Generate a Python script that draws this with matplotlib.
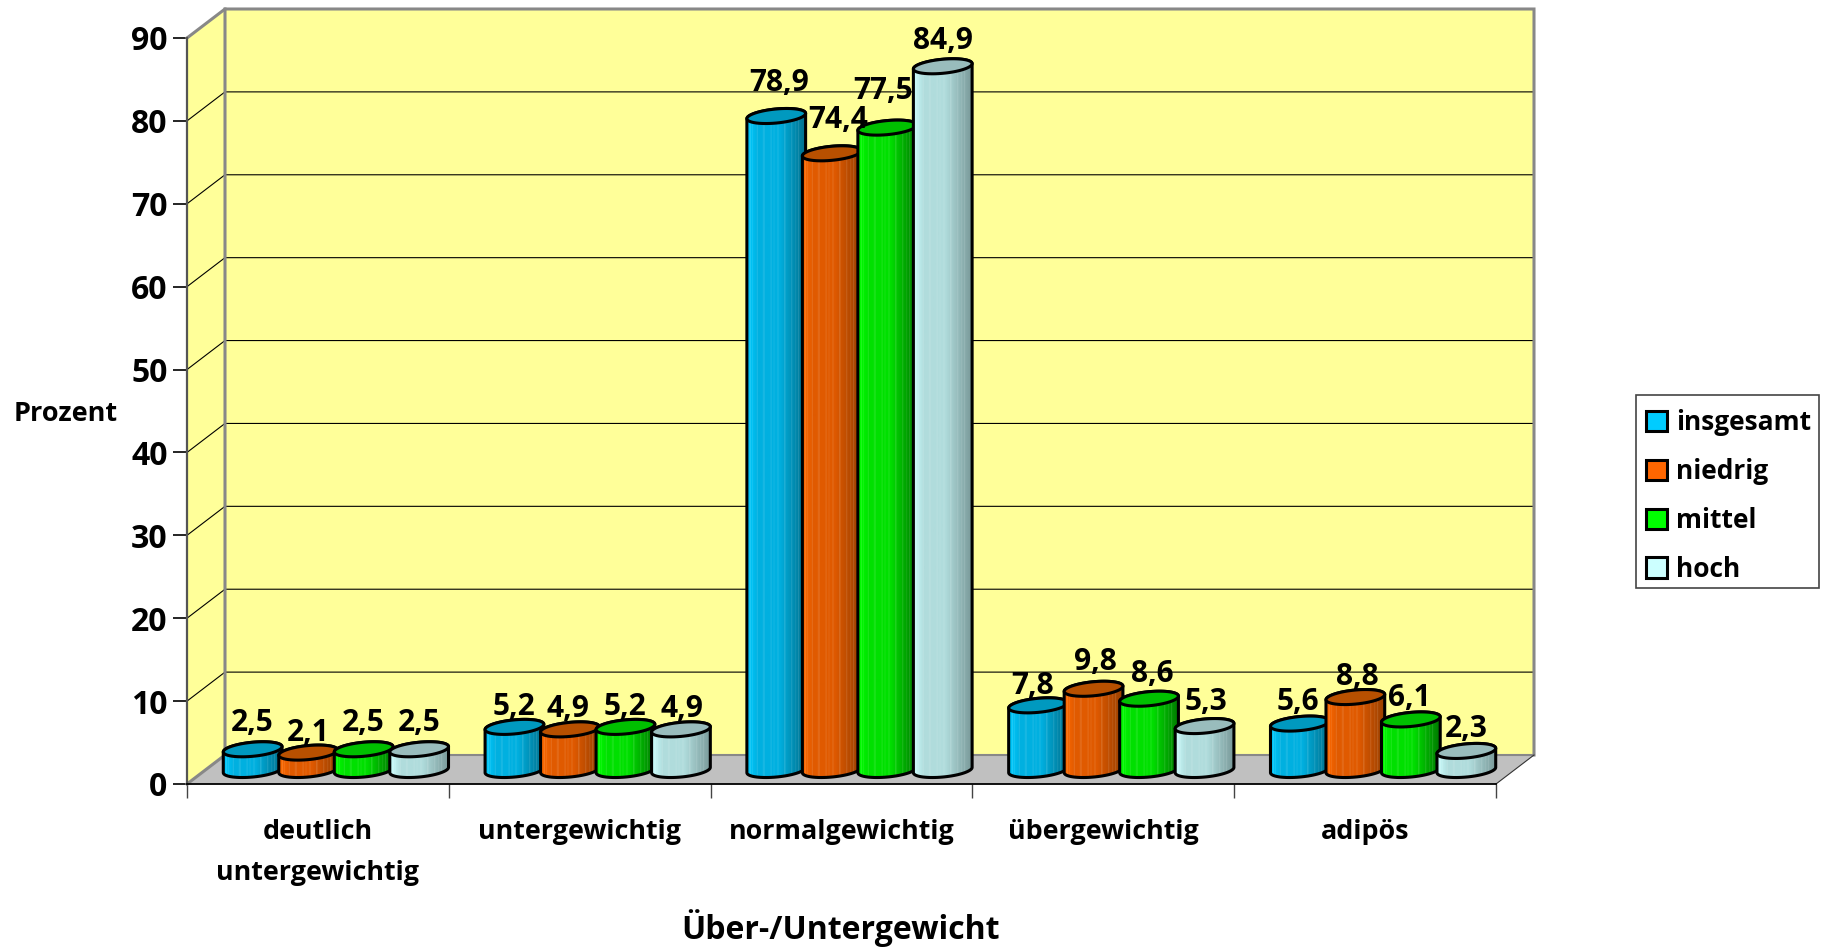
import numpy as np
import matplotlib
matplotlib.use("Agg")
import matplotlib.pyplot as plt
from matplotlib.patches import Polygon, Patch, Rectangle
from matplotlib.ticker import NullFormatter

plt.rcParams['font.family'] = ['Open Sans', 'DejaVu Sans']
plt.rcParams['font.weight'] = 'bold'

categories = ["deutlich\nuntergewichtig", "untergewichtig", "normalgewichtig", "übergewichtig", "adipös"]
series_names = ["insgesamt", "niedrig", "mittel", "hoch"]

insgesamt = [2.5, 5.2, 78.9, 7.8, 5.6]
niedrig = [2.1, 4.9, 74.4, 9.8, 8.8]
mittel = [2.5, 5.2, 77.5, 8.6, 6.1]
hoch = [2.5, 4.9, 84.9, 5.3, 2.3]
values = [insgesamt, niedrig, mittel, hoch]

# left, mid, right of the cylinder shading, then cap colour
shades = [
    ("#00ccff", "#00b0e0", "#00708c", "#0099bf"),
    ("#ff6a00", "#e05a00", "#994000", "#b85000"),
    ("#00ff00", "#00e000", "#007a00", "#00c000"),
    ("#ccffff", "#b0dcdc", "#7a9a9a", "#99bcbc"),
]
legend_colors = ["#00ccff", "#ff6600", "#00ff00", "#ccffff"]

# hand placed data labels in the original (pixels, by category then series)
label_dx = [[0, 0, 0, 0], [-1, -2, -1, 1], [3, 6, -4, 0], [-5, 2, 3, 1], [-2, 2, -1, 0]]
label_dy = [[18, 12, 18, 18], [12, 12, 12, 12], [25, 25, 29, 17], [11, 19, 17, 16], [14, 12, 13, 14]]

fig = plt.figure(figsize=(18.27, 9.48), dpi=100)
ax = fig.add_axes([187 / 1827, (948 - 784) / 948, 1309 / 1827, 746 / 948])
ax.set_facecolor("none")

x_max = 5
y_max = 90
sx = 1309 / x_max  # px per category
sy = 746 / y_max   # px per percent
depth_x = 38 / sx
depth_y = 29 / sy
base_x = 18 / sx
base_y = 14 / sy
bar_step = 55.5 / sx
a_px, b_px = 29.5, 7.0
tilt = np.radians(5.5)


def ellipse_pts(cx, cy, t):
    ex = a_px * np.cos(t) * np.cos(tilt) - b_px * np.sin(t) * np.sin(tilt)
    ey = a_px * np.cos(t) * np.sin(tilt) + b_px * np.sin(t) * np.cos(tilt)
    return cx + ex / sx, cy + ey / sy


def shade_image(left, mid, right):
    # gradient across the cylinder with thin light stripes like the original
    rgb = np.array([matplotlib.colors.to_rgb(c) for c in (left, mid, mid, right)])
    pos = np.linspace(0, 1, 60)
    img = np.stack([np.interp(pos, [0, 0.18, 0.55, 1], rgb[:, k]) for k in range(3)], axis=-1)
    img[3::7] = img[3::7] * 0.88 + 0.12
    img[5::11] = img[5::11] * 0.92 + 0.08
    return img[np.newaxis, :, :]


# walls and floor
ax.add_patch(Polygon([(0, 0), (depth_x, depth_y), (depth_x, y_max + depth_y), (0, y_max)],
                     facecolor="#ffff99", edgecolor="none", clip_on=False, zorder=1))
ax.add_patch(Polygon([(depth_x, depth_y), (x_max + depth_x, depth_y),
                      (x_max + depth_x, y_max + depth_y), (depth_x, y_max + depth_y)],
                     facecolor="#ffff99", edgecolor="none", clip_on=False, zorder=1))
ax.add_patch(Polygon([(0, 0), (x_max, 0), (x_max + depth_x, depth_y), (depth_x, depth_y)],
                     facecolor="#c0c0c0", edgecolor="none", clip_on=False, zorder=1))

# grid on both walls
for v in range(10, 90, 10):
    ax.plot([0, depth_x, x_max + depth_x], [v, v + depth_y, v + depth_y], color="black",
            lw=0.8, clip_on=False, zorder=2)

gray = "#888888"
ax.plot([0, depth_x, x_max + depth_x, x_max + depth_x],
        [y_max, y_max + depth_y, y_max + depth_y, depth_y],
        color=gray, lw=2.2, clip_on=False, zorder=2, solid_joinstyle="miter")
ax.plot([0, depth_x, depth_x], [0, depth_y, y_max + depth_y], color=gray, lw=2.2,
        clip_on=False, zorder=2)
ax.plot([depth_x, x_max + depth_x], [depth_y, depth_y], color=gray, lw=1.5, clip_on=False, zorder=2)
ax.plot([x_max, x_max + depth_x], [0, depth_y], color="#333333", lw=0.8, clip_on=False, zorder=2)

# cylinders
z = 3
for i in range(len(categories)):
    for j, series in enumerate(values):
        val = series[i]
        left, mid, right, cap = shades[j]
        cx = i + 0.5 + (j - 1.5) * bar_step + base_x
        cy = base_y
        low = np.linspace(np.pi, 2 * np.pi, 40)
        high = np.linspace(0, np.pi, 40)
        bx, by = ellipse_pts(cx, cy, low)
        tx, ty = ellipse_pts(cx, cy + val, high)
        body = Polygon(np.column_stack([np.r_[bx, tx], np.r_[by, ty]]), closed=True,
                       facecolor="none", edgecolor="black", lw=2.2, clip_on=False,
                       zorder=z + 0.2, joinstyle="round")
        ax.add_patch(body)
        clip = Polygon(np.column_stack([np.r_[bx, tx], np.r_[by, ty]]), closed=True,
                       transform=ax.transData)
        im = ax.imshow(shade_image(left, mid, right), aspect="auto", interpolation="bilinear",
                       extent=(bx.min(), bx.max(), by.min(), ty.max()), zorder=z)
        im.set_clip_path(clip)
        ex, ey = ellipse_pts(cx, cy + val, np.linspace(0, 2 * np.pi, 80))
        ax.add_patch(Polygon(np.column_stack([ex, ey]), closed=True, facecolor=cap,
                             edgecolor="black", lw=2.2, clip_on=False, zorder=z + 0.3))
        ax.annotate(f"{val:.1f}".replace(".", ","), (cx, cy + val),
                    xytext=(label_dx[i][j], label_dy[i][j]), textcoords="offset pixels",
                    ha="center", va="baseline", fontsize=21.5, fontweight="bold",
                    zorder=50, annotation_clip=False)
        z += 1

ax.set_xlim(0, x_max)
ax.set_ylim(0, y_max)

for s in ("top", "right"):
    ax.spines[s].set_visible(False)
ax.spines["left"].set_color("#555555")
ax.spines["left"].set_linewidth(1.6)
ax.spines["left"].set_zorder(2.5)
ax.spines["bottom"].set_color("black")
ax.spines["bottom"].set_linewidth(1.3)
ax.spines["bottom"].set_zorder(2.5)

ax.set_yticks(range(0, 100, 10))
ax.tick_params(axis="y", length=10, width=1.2, pad=4, labelsize=23)
ax.set_xticks(range(0, 6))
ax.xaxis.set_major_formatter(NullFormatter())
ax.tick_params(axis="x", which="major", length=10, width=1.0, color="#444444")
ax.set_xticks(np.arange(len(categories)) + 0.5, minor=True)
ax.set_xticklabels(categories, minor=True, fontsize=19.4, fontweight="bold", linespacing=1.72)
ax.tick_params(axis="x", which="minor", length=0, pad=25.5)

fig.text(66 / 1827, 1 - 414 / 948, "Prozent", ha="center", va="center", fontsize=19.5, fontweight="bold")
fig.text(841 / 1827, 1 - 928 / 948, "Über-/Untergewicht", ha="center", va="center",
         fontsize=23, fontweight="bold")

# legend box is drawn apart so the rows can sit lower inside it
fig.add_artist(Rectangle((1636 / 1827, 1 - 588 / 948), 183 / 1827, 193 / 948, transform=fig.transFigure,
                         facecolor="white", edgecolor="#444444", lw=1.2))
handles = [Patch(facecolor=legend_colors[k], edgecolor="black", lw=2.2, label=series_names[k])
           for k in range(4)]
leg = fig.legend(handles=handles, loc="upper left", bbox_to_anchor=(1636 / 1827, 1 - 399 / 948),
                 bbox_transform=fig.transFigure, fontsize=19, frameon=False,
                 borderpad=0.38, labelspacing=0.83,
                 handlelength=0.8, handleheight=0.8, handletextpad=0.34, borderaxespad=0)

fig.savefig("out.png", dpi=100)
